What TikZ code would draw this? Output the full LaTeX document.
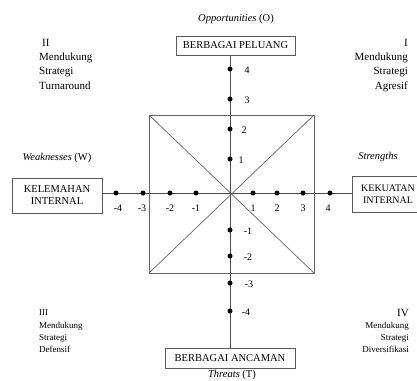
\documentclass[tikz,border=0pt]{standalone}
\usepackage{fontspec}
\setmainfont{Liberation Serif}
\begin{document}
\begin{tikzpicture}[x=1pt,y=-1pt,
 box/.style={draw=black!65, line width=0.8pt, fill=white, inner sep=0pt, font=\fontsize{10.5}{12}\selectfont, align=center},
 axis/.style={draw=black!70, line width=0.8pt},
 sq/.style={draw=black!60, line width=0.7pt},
 dot/.style={circle, fill=black, inner sep=0pt, minimum size=5pt},
 num/.style={font=\fontsize{10}{12}\selectfont, inner sep=0pt},
 quad/.style={font=\fontsize{11}{13}\selectfont, inner sep=0pt},
 quadsm/.style={font=\fontsize{9}{11}\selectfont, inner sep=0pt},
 lab/.style={font=\fontsize{10.5}{12}\selectfont, inner sep=0pt}]
\useasboundingbox (0,0) rectangle (417,380);
\clip (0,0) rectangle (417,380);
\coordinate (c) at (230,193);
% boxes
\node[box, minimum width=119pt, minimum height=19pt] (top) at (235.5,45.5) {BERBAGAI PELUANG};
\node[box, minimum width=130pt, minimum height=20pt] (bot) at (230,358) {BERBAGAI ANCAMAN};
\node[box, minimum width=90pt, minimum height=35pt] (lft) at (57,195.5) {KELEMAHAN\\INTERNAL};
\node[box, minimum width=72pt, minimum height=36pt, font=\fontsize{10}{11.5}\selectfont] (rgt) at (388,194) {KEKUATAN\\INTERNAL};
% square and diagonals
\coordinate (s1) at (149,115);
\coordinate (s2) at (314,115);
\coordinate (s3) at (314,273);
\coordinate (s4) at (149,273);
\draw[sq] (s1) -- (s2) -- (s3) -- (s4) -- cycle;
\draw[sq] (s1) -- (s3);
\draw[sq] (s2) -- (s4);
% axes
\draw[axis] (c |- top.south) -- (c |- bot.north);
\draw[axis] (lft.east |- c) -- (rgt.west |- c);
% vertical dots and labels
\foreach \y/\t/\lx in {69/4/247, 99/3/247, 129/2/244, 159/1/241, 230/-1/248, 256/-2/248, 283/-3/249, 311/-4/246}{
  \node[dot] (v\t) at (230,\y) {};
  \node[num] (vl\t) at (\lx,\y+1) {\t};
}
% horizontal dots and labels
\foreach \x/\t/\lx in {116/-4/118, 143/-3/142, 170/-2/170, 196/-1/196, 253/1/253, 277/2/277, 303/3/303, 330/4/328}{
  \node[dot] (h\t) at (\x,193) {};
  \node[num] (hl\t) at (\lx,208) {\t};
}
% axis titles
\node[lab] (opp) at (236,19) {\textit{Opportunities} (O)};
\node[lab] (thr) at (232,375) {\textit{Threats} (T)};
\node[lab] (wea) at (57,158) {\textit{Weaknesses} (W)};
\node[lab] (str) at (378,157) {\textit{Strengths}};
% quadrant II
\node[quad, anchor=base west] (q2a) at (42,46) {II};
\node[quad, anchor=base west] (q2b) at (39,60) {Mendukung};
\node[quad, anchor=base west] (q2c) at (39,74.5) {Strategi};
\node[quad, anchor=base west] (q2d) at (39,89) {Turnaround};
% quadrant I
\node[quad, anchor=base east] (q1a) at (408,46) {I};
\node[quad, anchor=base east] (q1b) at (408,60) {Mendukung};
\node[quad, anchor=base east] (q1c) at (408,74.5) {Strategi};
\node[quad, anchor=base east] (q1d) at (408,89) {Agresif};
% quadrant III
\node[quadsm, anchor=base west] (q3a) at (39,315) {III};
\node[quadsm, anchor=base west] (q3b) at (39,328.5) {Mendukung};
\node[quadsm, anchor=base west] (q3c) at (39,340) {Strategi};
\node[quadsm, anchor=base west] (q3d) at (39,352) {Defensif};
% quadrant IV
\node[quad, anchor=base east] (q4a) at (409,316) {IV};
\node[quadsm, anchor=base east] (q4b) at (409,328.5) {Mendukung};
\node[quadsm, anchor=base east] (q4c) at (409,340) {Strategi};
\node[quadsm, anchor=base east] (q4d) at (409,352) {Diversifikasi};
\end{tikzpicture}
\end{document}
